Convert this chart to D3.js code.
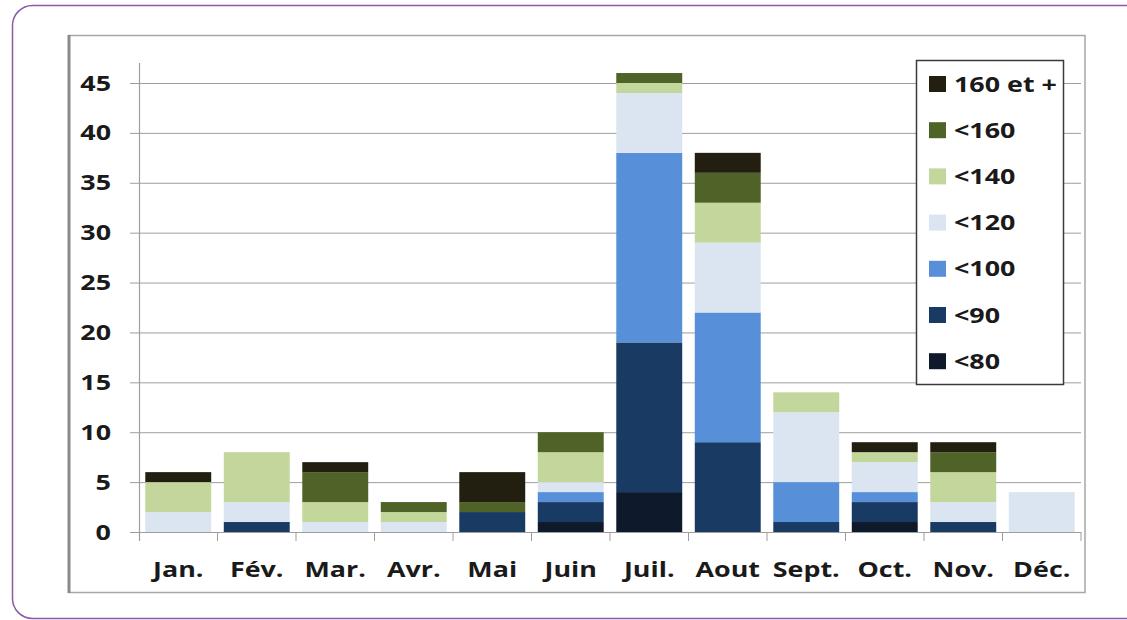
<!DOCTYPE html>
<html>
<head>
<meta charset="utf-8">
<script src="https://cdn.jsdelivr.net/npm/d3@7/dist/d3.min.js"></script>
<style>
  html, body { margin: 0; padding: 0; background: #fff; }
  svg { display: block; }
  text { font-family: "Open Sans", "DejaVu Sans", sans-serif; font-weight: 700; fill: #1a1a1a; }
</style>
</head>
<body>
<svg id="chart" width="1127" height="620"></svg>
<script>
// Months along the x axis
const months = ["Jan.", "Fév.", "Mar.", "Avr.", "Mai", "Juin", "Juil.", "Aout", "Sept.", "Oct.", "Nov.", "Déc."];

// Classes, stacked from bottom to top
const classes = ["<80", "<90", "<100", "<120", "<140", "<160", "160 et +"];

// Counts per class, one value per month
const lt80    = [0, 0, 0, 0, 0, 1, 4, 0, 0, 1, 0, 0];
const lt90    = [0, 1, 0, 0, 2, 2, 15, 9, 1, 2, 1, 0];
const lt100   = [0, 0, 0, 0, 0, 1, 19, 13, 4, 1, 0, 0];
const lt120   = [2, 2, 1, 1, 0, 1, 6, 7, 7, 3, 2, 4];
const lt140   = [3, 5, 2, 1, 0, 3, 1, 4, 2, 1, 3, 0];
const lt160   = [0, 0, 3, 1, 1, 2, 1, 3, 0, 0, 2, 0];
const over160 = [1, 0, 1, 0, 3, 0, 0, 2, 0, 1, 1, 0];

const yTicks = [0, 5, 10, 15, 20, 25, 30, 35, 40, 45];

const colors = ["#0e1a2c", "#193a63", "#5790d8", "#dbe5f1", "#c3d69b", "#4f6228", "#221e10"];

const seriesValues = [lt80, lt90, lt100, lt120, lt140, lt160, over160];
const rows = months.map((m, i) => {
  const r = { month: m };
  classes.forEach((c, k) => { r[c] = seriesValues[k][i]; });
  return r;
});

const FONT_SIZE = 21;
const STRETCH = 1.28; // wide lettering

const svg = d3.select("#chart");

// Rounded purple panel
svg.append("rect")
  .attr("x", 12.5).attr("y", 5.5)
  .attr("width", 1160).attr("height", 613)
  .attr("rx", 20).attr("ry", 20)
  .attr("fill", "#fff")
  .attr("stroke", "#8d5aa6").attr("stroke-width", 1.5);

// Chart frame
svg.append("rect")
  .attr("x", 69).attr("y", 35.5)
  .attr("width", 1016).attr("height", 557)
  .attr("fill", "#fff")
  .attr("stroke", "#a6a6a6").attr("stroke-width", 1.5);
svg.append("line")
  .attr("x1", 69).attr("x2", 69).attr("y1", 35).attr("y2", 593)
  .attr("stroke", "#8a8a8a").attr("stroke-width", 3);

const plot = { left: 139, right: 1081, top: 83, bottom: 532 };

const x = d3.scaleBand()
  .domain(months)
  .range([plot.left, plot.right])
  .paddingInner(0.16)
  .paddingOuter(0.08);

const y = d3.scaleLinear()
  .domain([0, 45])
  .range([plot.bottom, plot.top]);

// Horizontal gridlines with small ticks on the left
svg.append("g")
  .selectAll("line")
  .data(yTicks)
  .join("line")
  .attr("x1", plot.left - 9).attr("x2", plot.right)
  .attr("y1", d => y(d) + 0.5).attr("y2", d => y(d) + 0.5)
  .attr("stroke", "#9e9e9e").attr("stroke-width", 1);

// Stacked bars
const layers = d3.stack().keys(classes)(rows);

svg.append("g")
  .selectAll("g")
  .data(layers)
  .join("g")
  .attr("fill", (d, i) => colors[i])
  .selectAll("rect")
  .data(d => d)
  .join("rect")
  .attr("x", d => x(d.data.month))
  .attr("width", x.bandwidth())
  .attr("y", d => y(d[1]))
  .attr("height", d => y(d[0]) - y(d[1]));

// Y axis line
svg.append("line")
  .attr("x1", plot.left + 0.5).attr("x2", plot.left + 0.5)
  .attr("y1", 63).attr("y2", plot.bottom + 9)
  .attr("stroke", "#9e9e9e").attr("stroke-width", 1.2);

// X category boundary ticks
const boundaries = d3.range(1, months.length + 1).map(i => plot.left + i * x.step());
svg.append("g")
  .selectAll("line")
  .data(boundaries)
  .join("line")
  .attr("x1", d => d).attr("x2", d => d)
  .attr("y1", plot.bottom).attr("y2", plot.bottom + 9)
  .attr("stroke", "#9e9e9e").attr("stroke-width", 1);

// Y tick labels
svg.append("g")
  .selectAll("text")
  .data(yTicks)
  .join("text")
  .attr("transform", d => `translate(111, ${y(d)}) scale(${STRETCH}, 1)`)
  .attr("dy", "0.36em")
  .attr("text-anchor", "end")
  .attr("font-size", FONT_SIZE)
  .text(d => d);

// Month labels
svg.append("g")
  .selectAll("text")
  .data(months)
  .join("text")
  .attr("transform", d => `translate(${x(d) + x.bandwidth() / 2}, 577) scale(${STRETCH}, 1)`)
  .attr("text-anchor", "middle")
  .attr("font-size", FONT_SIZE)
  .text(d => d);

// Legend, top class first
const legend = svg.append("g");
legend.append("rect")
  .attr("x", 916.5).attr("y", 60.5)
  .attr("width", 147).attr("height", 324)
  .attr("fill", "#fff")
  .attr("stroke", "#3a3a3a").attr("stroke-width", 1.5);

const legendItems = classes.map((c, i) => ({ label: c, color: colors[i] })).reverse();
const item = legend.selectAll("g.item")
  .data(legendItems)
  .join("g")
  .attr("class", "item")
  .attr("transform", (d, i) => `translate(929, ${84 + i * 46.2})`);
item.append("rect")
  .attr("x", 0).attr("y", -8)
  .attr("width", 17).attr("height", 16)
  .attr("fill", d => d.color);
item.append("text")
  .attr("transform", `translate(25, 0) scale(${STRETCH}, 1)`)
  .attr("dy", "0.36em")
  .attr("font-size", FONT_SIZE)
  .text(d => d.label);
</script>
</body>
</html>
